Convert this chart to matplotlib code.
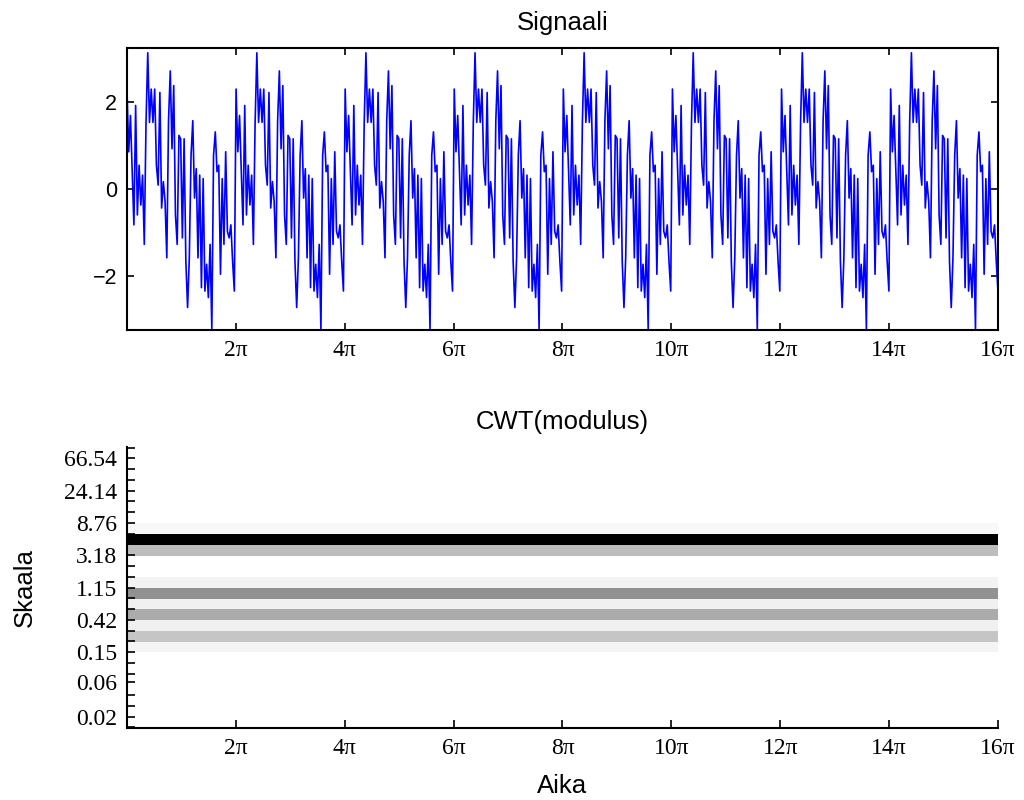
import numpy as np
import matplotlib
matplotlib.use("Agg")
import matplotlib.pyplot as plt
from matplotlib.ticker import FixedLocator, NullFormatter

# ---- data ----
# one 2*pi period of the signal (it repeats 8 times over 0..16*pi)
period_values = [2.31, 0.86, 1.70, 0.40, -0.83, 1.93, -0.60, 0.55, -0.37, 0.32,
                 -1.28, 1.54, 3.15, 1.54, 2.31, 1.54, 2.31, 0.55, 0.09, 2.23,
                 -0.44, 0.17, -0.29, -1.59, 1.58, 2.73, 0.93, 2.39, -0.60, -1.28,
                 1.24, 1.16, -1.13, 1.16, -1.67, -2.74, -1.59, 0.78, 1.58, -0.21,
                 0.47, -1.59, 0.32, -2.28, 0.24, -2.36, -1.74, -2.51, -1.28, -3.24,
                 0.78, 1.32, 0.40, 0.55, -1.97, 0.24, -1.28, 0.86, -0.98, -1.13,
                 -0.83, -1.67, -2.36]
n_periods = 8

x_tick_labels = ["2π", "4π", "6π", "8π", "10π", "12π", "14π", "16π"]
x_tick_values = [2 * np.pi * k for k in range(1, 9)]

scale_labels = ["0.02", "0.06", "0.15", "0.42", "1.15", "3.18", "8.76", "24.14", "66.54"]
scale_values = [0.02, 0.06, 0.15, 0.42, 1.15, 3.18, 8.76, 24.14, 66.54]

# CWT modulus per scale row, from scale 8.76 (top) down to 0.15 (bottom), 0..1
cwt_rows = [0.03, 1.00, 0.26, 0.00, 0.00, 0.05, 0.43, 0.06, 0.33, 0.06, 0.23, 0.045]

# ---- build ----
signal = np.array(period_values * n_periods)
t = np.linspace(0, 16 * np.pi, len(signal))

ratio = (scale_values[-1] / scale_values[0]) ** (1 / 8)
step = ratio ** (1 / 3)
minor_ticks = [scale_values[0] * step ** k for k in range(-1, 26) if k % 3 != 0]

fig = plt.figure(figsize=(10.24, 8.0), dpi=100)
ax1 = fig.add_axes([0.124, 0.5875, 0.8506, 0.3525])
ax2 = fig.add_axes([0.124, 0.09, 0.8506, 0.35125])

tick_font = dict(family="Liberation Serif", size=17)
title_font = dict(family="Liberation Sans", size=18.5)

# top panel
ax1.plot(t, signal, color="blue", linewidth=1.2)
ax1.set_xlim(0, 16 * np.pi)
ax1.set_ylim(-3.26, 3.26)
ax1.set_xticks(x_tick_values)
ax1.set_xticklabels(x_tick_labels, **tick_font)
ax1.set_yticks([-2, 0, 2])
ax1.set_yticklabels(["−2", "0", "2"], family="Liberation Sans", size=15.5)
ax1.tick_params(direction="in", length=5, width=1.2, top=True, right=True, pad=7)
for s in ax1.spines.values():
    s.set_linewidth(1.5)
ax1.set_title("Signaali", pad=13, **title_font)

# bottom panel
edges_y = [scale_values[2] * step ** k for k in range(13)][::-1]  # 8.76 .. 0.15
edges_x = np.linspace(0, 16 * np.pi, 2)
Z = np.array(cwt_rows).reshape(-1, 1)
ax2.pcolormesh(edges_x, edges_y, Z, cmap="gray_r", vmin=0, vmax=1, shading="flat")
ax2.set_yscale("log")
ax2.set_xlim(0, 16 * np.pi)
ax2.set_ylim(scale_values[0] / step * 0.98, scale_values[-1] * step * 1.02)
ax2.yaxis.set_major_locator(FixedLocator(scale_values))
ax2.yaxis.set_minor_locator(FixedLocator(minor_ticks))
ax2.set_yticklabels(scale_labels, **tick_font)
ax2.yaxis.set_minor_formatter(NullFormatter())
ax2.set_xticks(x_tick_values)
ax2.set_xticklabels(x_tick_labels, **tick_font)
ax2.tick_params(which="both", direction="in", length=6, width=1.2, pad=7)
ax2.spines["top"].set_visible(False)
ax2.spines["right"].set_visible(False)
ax2.spines["left"].set_linewidth(1.5)
ax2.spines["bottom"].set_linewidth(1.5)
ax2.set_title("CWT(modulus)", pad=13, **title_font)
ax2.set_ylabel("Skaala", **title_font)
ax2.yaxis.set_label_coords(-0.104, 0.5)
ax2.set_xlabel("Aika", **title_font)
ax2.xaxis.set_label_coords(0.5, -0.165)

fig.savefig("out.png", dpi=100)
